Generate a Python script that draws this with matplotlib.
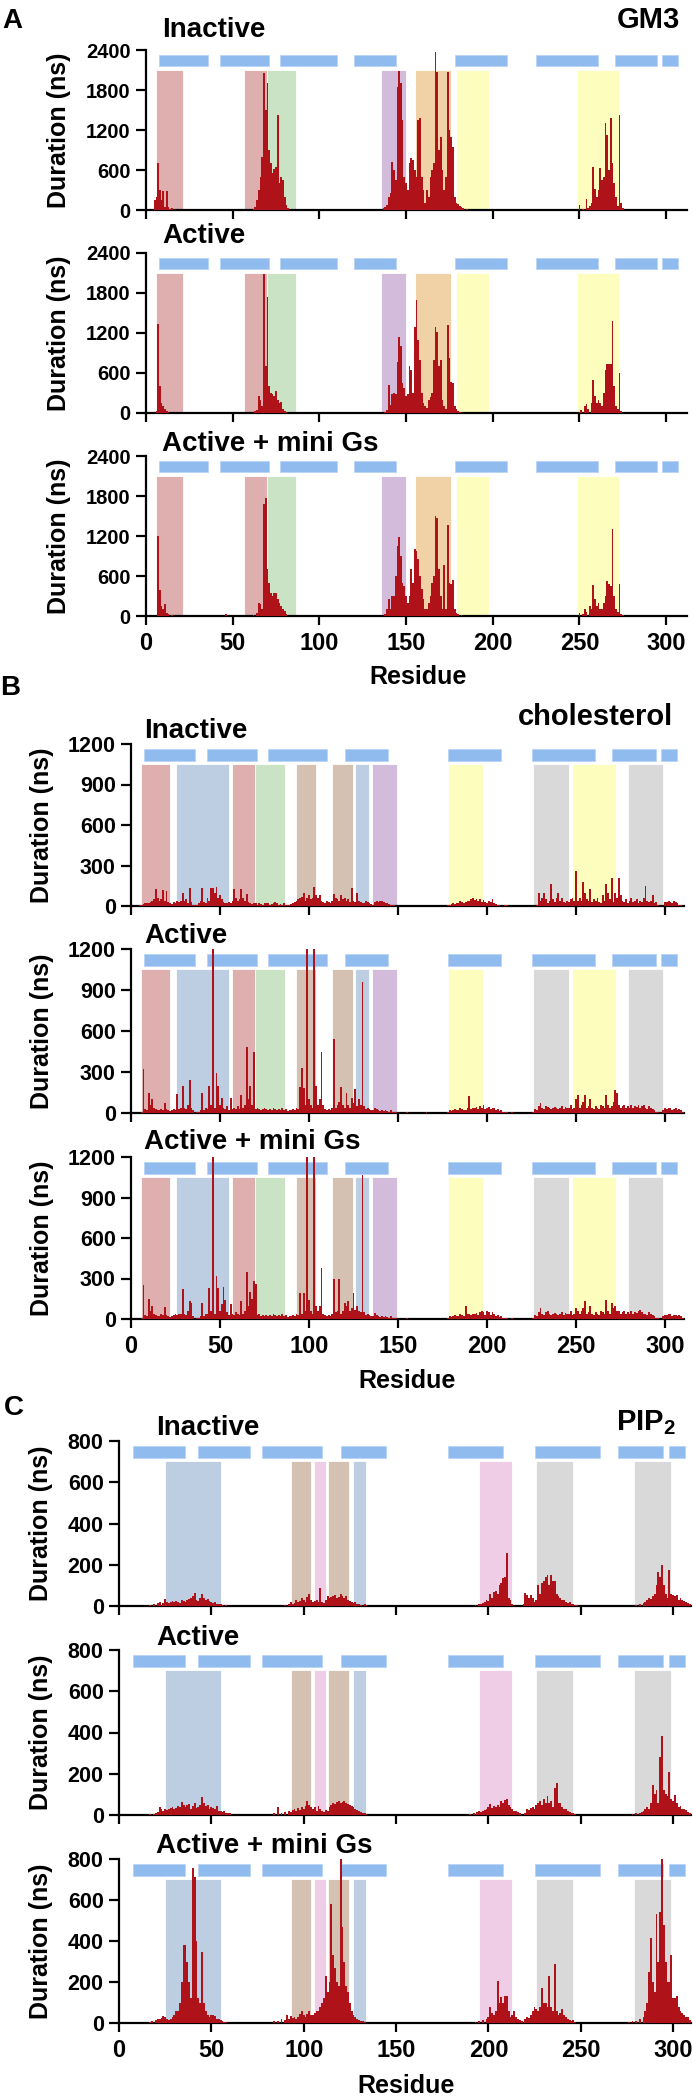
import numpy as np
import matplotlib.pyplot as plt

plt.rcParams['font.family'] = ['Liberation Sans', 'DejaVu Sans']
plt.rcParams['font.weight'] = 'bold'
plt.rcParams['mathtext.fontset'] = 'custom'
plt.rcParams['mathtext.rm'] = 'Liberation Sans:bold'
plt.rcParams['mathtext.bf'] = 'Liberation Sans:bold'

# ---------------- data ----------------
states = ['Inactive', 'Active', 'Active + mini Gs']
lipids = ['GM3', 'cholesterol', 'PIP$_2$']
panel_letters = ['A', 'B', 'C']
xticks = [0, 50, 100, 150, 200, 250, 300]
yticks_gm3 = [0, 600, 1200, 1800, 2400]
yticks_chol = [0, 300, 600, 900, 1200]
yticks_pip2 = [0, 200, 400, 600, 800]

# helix segments (residue start, end)
helices = [(7.5, 36), (42.7, 71), (77.2, 110), (120, 144.3), (178, 208),
           (225, 260.5), (270.2, 294.6), (297.6, 306.6)]

# shaded binding-site regions (start, end, kind)
gm3_regions = [(5.6, 21.6, 'red'), (56.7, 70, 'red'), (70, 86.5, 'green'),
               (135.8, 150, 'purple'), (155, 176, 'orange'),
               (178.5, 197.8, 'yellow'), (248.4, 272.6, 'yellow')]
chol_regions = [(5.7, 21.7, 'red'), (25, 54.9, 'bluegray'), (56.6, 69.9, 'red'),
                (69.9, 86.6, 'green'), (92.8, 103.8, 'brown'), (112.8, 124.5, 'brown'),
                (126, 133.8, 'bluegray'), (135.5, 149.5, 'purple'), (178, 197.7, 'yellow'),
                (225.6, 246, 'gray'), (247.6, 272.3, 'yellow'), (279, 299, 'gray')]
pip2_regions = [(25, 55, 'bluegray'), (93, 104.2, 'brown'), (105.4, 111.9, 'pink'),
                (113.3, 124.8, 'brown'), (126.5, 134, 'bluegray'), (194.9, 212.7, 'pink'),
                (225.9, 245.8, 'gray'), (279, 298.8, 'gray')]

# GM3 durations {residue: ns}
gm3_inactive = {5: 150, 6: 200, 7: 700, 8: 300, 9: 150, 10: 280, 11: 50, 12: 280, 13: 40, 14: 20, 15: 30,
                62: 20, 63: 50, 64: 150, 65: 300, 66: 500, 67: 800, 68: 2060, 69: 1500, 70: 1900, 71: 900,
                72: 700, 73: 550, 74: 620, 75: 650, 76: 1430, 77: 400, 78: 500, 79: 450, 80: 200, 81: 80, 82: 30,
                137: 30, 138: 50, 139: 80, 140: 200, 141: 250, 142: 725, 143: 600, 144: 450, 145: 1850,
                146: 2085, 147: 1900, 148: 1350, 149: 500, 150: 400, 151: 300, 152: 700, 153: 775, 154: 750,
                155: 600, 156: 500, 157: 1350, 158: 1375, 159: 500, 160: 300, 161: 100, 162: 300, 163: 200,
                164: 500, 165: 600, 166: 700, 167: 2375, 168: 2075, 169: 900, 170: 1100, 171: 600, 172: 300,
                173: 500, 174: 2075, 175: 1200, 176: 1100, 177: 950, 178: 200, 179: 100, 180: 90, 181: 60,
                182: 50, 183: 30, 185: 20,
                250: 80, 252: 20, 254: 170, 255: 30, 256: 60, 257: 100, 258: 650, 259: 320, 260: 200,
                261: 300, 262: 625, 263: 450, 264: 500, 265: 1300, 266: 1125, 267: 600, 268: 1375, 269: 700,
                270: 400, 271: 200, 272: 60, 273: 1425, 274: 100, 275: 30}
gm3_active = {6: 30, 7: 1330, 8: 400, 9: 150, 10: 100, 11: 60, 12: 30, 13: 20,
              63: 30, 64: 40, 65: 250, 66: 200, 67: 100, 68: 2090, 69: 700, 70: 1740, 71: 400, 72: 300,
              73: 280, 74: 250, 75: 330, 76: 200, 77: 150, 78: 170, 79: 60, 80: 30, 81: 10,
              138: 20, 139: 40, 140: 425, 141: 120, 142: 280, 143: 300, 144: 280, 145: 770, 146: 1145,
              147: 1000, 148: 450, 149: 380, 150: 250, 151: 280, 152: 700, 153: 650, 154: 300, 155: 1295,
              156: 1700, 157: 1100, 158: 800, 159: 300, 160: 150, 161: 100, 162: 80, 163: 200, 164: 240,
              165: 300, 166: 800, 167: 1295, 168: 1220, 169: 700, 170: 800, 171: 200, 172: 100, 173: 60,
              174: 1320, 175: 820, 176: 470, 177: 450, 178: 100, 179: 60, 180: 30, 181: 20,
              250: 20, 251: 40, 253: 100, 254: 130, 255: 60, 257: 150, 258: 500, 259: 250, 260: 150,
              261: 200, 262: 150, 263: 100, 264: 300, 265: 650, 266: 735, 267: 735, 268: 735, 269: 1385,
              270: 400, 271: 100, 272: 60, 273: 600, 274: 30}
gm3_minigs = {7: 1200, 8: 390, 9: 150, 10: 100, 11: 180, 12: 50, 13: 30, 15: 20, 46: 30,
              62: 20, 64: 40, 65: 190, 66: 180, 67: 100, 68: 1680, 69: 1765, 70: 700, 71: 500, 72: 350,
              73: 300, 74: 340, 75: 350, 76: 250, 77: 200, 78: 150, 79: 100, 80: 80, 81: 30,
              138: 30, 139: 100, 140: 250, 141: 100, 142: 300, 143: 300, 144: 600, 145: 1050, 146: 1180,
              147: 900, 148: 490, 149: 450, 150: 300, 151: 200, 152: 300, 153: 700, 154: 500, 155: 1010,
              156: 980, 157: 850, 158: 600, 159: 400, 160: 250, 161: 100, 162: 100, 163: 200, 164: 300,
              165: 500, 166: 600, 167: 1500, 168: 1465, 169: 700, 170: 300, 171: 100, 172: 765, 173: 100,
              174: 1365, 175: 500, 176: 480, 177: 540, 178: 100, 179: 50, 180: 30, 182: 20,
              250: 50, 252: 30, 253: 100, 254: 60, 256: 150, 257: 100, 258: 465, 259: 250, 260: 150,
              261: 200, 262: 100, 263: 100, 264: 200, 265: 300, 266: 530, 267: 480, 268: 450, 269: 1300,
              270: 300, 271: 100, 272: 60, 273: 485, 274: 30, 275: 20}

# cholesterol durations, residues 1..310 (10 per row)
chol_inactive = [
    0, 0, 0, 0, 5, 10, 15, 20, 25, 20,
    30, 40, 50, 125, 60, 40, 50, 120, 40, 110,
    30, 20, 15, 30, 20, 40, 30, 35, 100, 40,
    50, 20, 130, 30, 10, 5, 10, 20, 40, 130,
    30, 20, 60, 40, 130, 135, 100, 140, 60, 80,
    50, 30, 20, 20, 30, 20, 40, 125, 60, 40,
    50, 125, 60, 40, 90, 30, 20, 15, 20, 20,
    10, 20, 15, 10, 20, 25, 20, 10, 15, 20,
    30, 20, 10, 15, 10, 20, 10, 5, 10, 15,
    20, 30, 40, 50, 60, 70, 100, 40, 60, 80,
    50, 60, 140, 80, 60, 80, 40, 30, 20, 40,
    30, 20, 40, 90, 60, 50, 40, 80, 50, 60,
    40, 50, 30, 130, 40, 30, 100, 40, 30, 20,
    20, 40, 30, 20, 15, 10, 30, 40, 30, 40,
    35, 30, 25, 20, 15, 10, 5, 5, 0, 0,
    0, 0, 0, 0, 0, 0, 0, 0, 0, 0,
    0, 0, 0, 0, 0, 0, 0, 0, 0, 0,
    0, 0, 0, 0, 0, 0, 0, 5, 10, 15,
    20, 15, 25, 20, 40, 30, 20, 30, 40, 35,
    50, 60, 45, 55, 40, 50, 30, 45, 30, 20,
    40, 30, 50, 20, 15, 10, 5, 0, 0, 10,
    5, 0, 0, 0, 0, 0, 0, 0, 0, 0,
    0, 0, 0, 0, 0, 0, 0, 5, 100, 40,
    60, 100, 50, 20, 40, 165, 50, 30, 60, 100,
    40, 60, 30, 20, 40, 30, 50, 60, 40, 260,
    40, 60, 40, 175, 100, 50, 40, 125, 30, 50,
    40, 60, 30, 20, 80, 40, 165, 100, 50, 210,
    30, 100, 60, 210, 80, 40, 30, 50, 20, 40,
    60, 30, 40, 50, 20, 40, 30, 60, 150, 40,
    30, 40, 85, 20, 30, 10, 0, 0, 0, 30,
    30, 35, 30, 20, 40, 30, 20, 10, 5, 0]
chol_active = [
    0, 0, 0, 0, 0, 5, 320, 30, 20, 150,
    60, 100, 40, 30, 20, 20, 30, 20, 70, 30,
    20, 15, 20, 30, 20, 140, 30, 40, 200, 40,
    30, 60, 240, 40, 20, 0, 5, 10, 20, 150,
    20, 40, 30, 200, 60, 1200, 40, 290, 200, 60,
    110, 40, 30, 50, 20, 110, 30, 40, 30, 50,
    30, 130, 40, 60, 480, 100, 200, 60, 450, 30,
    40, 30, 20, 30, 40, 30, 20, 30, 20, 40,
    30, 20, 30, 25, 40, 20, 30, 15, 20, 25,
    30, 20, 40, 30, 190, 330, 180, 60, 1200, 100,
    60, 40, 1200, 200, 60, 100, 450, 60, 30, 20,
    30, 20, 40, 540, 40, 60, 80, 190, 60, 40,
    150, 60, 40, 110, 70, 175, 50, 100, 60, 960,
    50, 30, 40, 30, 20, 25, 40, 30, 20, 15,
    20, 15, 20, 15, 10, 20, 10, 5, 5, 0,
    0, 0, 0, 0, 10, 0, 0, 0, 0, 0,
    0, 0, 0, 0, 0, 10, 0, 0, 0, 0,
    0, 0, 0, 0, 0, 0, 0, 10, 20, 15,
    20, 30, 25, 20, 40, 30, 20, 25, 40, 125,
    30, 40, 35, 45, 30, 50, 40, 55, 30, 40,
    45, 30, 40, 35, 20, 30, 15, 20, 10, 10,
    10, 0, 0, 5, 0, 0, 0, 0, 0, 0,
    0, 0, 0, 0, 0, 10, 30, 20, 50, 75,
    40, 30, 50, 45, 40, 30, 40, 45, 35, 30,
    40, 50, 30, 45, 40, 35, 60, 30, 40, 100,
    130, 40, 60, 80, 130, 40, 50, 100, 40, 30,
    50, 40, 30, 60, 50, 40, 130, 60, 40, 50,
    80, 165, 150, 60, 40, 50, 60, 40, 50, 40,
    60, 40, 50, 45, 60, 40, 50, 60, 40, 30,
    50, 40, 30, 20, 10, 5, 0, 0, 20, 40,
    30, 40, 35, 20, 30, 40, 20, 30, 20, 10]
chol_minigs = [
    0, 0, 0, 0, 0, 5, 255, 30, 20, 145,
    60, 100, 40, 30, 20, 25, 40, 30, 90, 30,
    20, 15, 20, 30, 40, 30, 35, 40, 220, 40,
    30, 60, 135, 120, 20, 0, 5, 10, 20, 120,
    20, 40, 40, 230, 60, 1200, 40, 320, 230, 60,
    110, 240, 140, 50, 30, 110, 40, 30, 50, 40,
    30, 135, 40, 60, 350, 100, 200, 150, 280, 260,
    30, 40, 20, 30, 20, 30, 25, 30, 20, 40,
    30, 20, 30, 25, 35, 20, 30, 15, 20, 25,
    30, 20, 40, 30, 190, 40, 190, 60, 1200, 140,
    60, 40, 1200, 100, 60, 100, 380, 40, 30, 20,
    30, 20, 40, 300, 50, 60, 300, 40, 60, 120,
    100, 130, 60, 80, 195, 70, 100, 60, 50, 1065,
    50, 30, 40, 30, 20, 25, 45, 30, 20, 15,
    20, 15, 20, 15, 10, 20, 10, 5, 5, 0,
    0, 0, 0, 0, 10, 0, 0, 0, 0, 0,
    0, 0, 0, 0, 0, 0, 0, 0, 0, 0,
    0, 0, 0, 0, 0, 0, 0, 10, 20, 15,
    20, 30, 25, 20, 40, 30, 20, 100, 40, 35,
    30, 40, 35, 45, 30, 50, 60, 55, 30, 60,
    55, 30, 50, 35, 20, 30, 15, 20, 10, 10,
    10, 0, 0, 5, 0, 0, 0, 0, 0, 0,
    0, 0, 0, 0, 0, 10, 30, 20, 50, 80,
    40, 30, 50, 60, 40, 30, 40, 45, 35, 30,
    40, 50, 30, 45, 40, 35, 60, 30, 40, 80,
    60, 40, 60, 80, 130, 40, 50, 100, 40, 30,
    50, 40, 30, 60, 50, 40, 140, 60, 40, 120,
    80, 100, 60, 60, 40, 50, 60, 40, 50, 40,
    60, 40, 50, 45, 60, 70, 50, 40, 40, 30,
    50, 40, 30, 20, 10, 5, 0, 0, 20, 30,
    30, 40, 35, 20, 30, 30, 20, 30, 20, 10]

# PIP2 durations {residue: ns}
pip2_inactive = {17: 5, 19: 10, 21: 15, 22: 20, 24: 15, 25: 32, 26: 20, 27: 15, 28: 20, 29: 25, 30: 20,
                 31: 25, 32: 20, 33: 15, 34: 30, 35: 25, 36: 20, 37: 30, 38: 35, 39: 40, 40: 50, 41: 65,
                 42: 30, 43: 25, 44: 40, 45: 58, 46: 40, 47: 30, 48: 35, 49: 25, 50: 20, 51: 15, 52: 20,
                 53: 10, 54: 10, 55: 10, 56: 5, 58: 5,
                 90: 5, 92: 10, 93: 20, 94: 10, 95: 15, 96: 30, 97: 20, 98: 25, 99: 40, 100: 30, 101: 20,
                 102: 45, 103: 60, 104: 30, 105: 20, 106: 25, 107: 30, 108: 20, 109: 85, 110: 20, 111: 15,
                 112: 30, 113: 50, 114: 40, 115: 45, 116: 50, 117: 55, 118: 40, 119: 45, 120: 60, 121: 50,
                 122: 40, 123: 50, 124: 30, 125: 25, 126: 20, 127: 15, 128: 20, 129: 10, 130: 10, 131: 5,
                 133: 10, 134: 5,
                 193: 5, 195: 10, 196: 10, 197: 15, 198: 20, 199: 30, 200: 25, 201: 60, 202: 40, 203: 70,
                 204: 75, 205: 60, 206: 100, 207: 110, 208: 135, 209: 140, 210: 255, 211: 40, 212: 30,
                 213: 10,
                 219: 10, 220: 65, 221: 55, 222: 40, 223: 55, 224: 40, 225: 20, 226: 30, 227: 100, 228: 60,
                 229: 110, 230: 120, 231: 140, 232: 150, 233: 100, 234: 150, 235: 120, 236: 120, 237: 60,
                 238: 50, 239: 40, 240: 30, 241: 30, 242: 20, 243: 15, 244: 20, 245: 10, 246: 10, 247: 5,
                 248: 5,
                 280: 5, 282: 10, 284: 15, 285: 20, 286: 30, 287: 40, 288: 35, 289: 50, 290: 60, 291: 100,
                 292: 165, 293: 140, 294: 200, 295: 100, 296: 60, 297: 40, 298: 175, 299: 60, 300: 55,
                 301: 50, 302: 55, 303: 30, 304: 40, 305: 30, 306: 25, 307: 20, 308: 15, 309: 10}
pip2_active = {17: 5, 19: 5, 20: 10, 21: 15, 22: 40, 23: 30, 24: 20, 25: 30, 26: 25, 27: 30, 28: 35,
               29: 40, 30: 30, 31: 35, 32: 45, 33: 40, 34: 65, 35: 50, 36: 40, 37: 50, 38: 55, 39: 30,
               40: 45, 41: 60, 42: 35, 43: 40, 44: 50, 45: 85, 46: 60, 47: 45, 48: 50, 49: 30, 50: 40,
               51: 35, 52: 30, 53: 45, 54: 20, 55: 20, 56: 15, 57: 20, 58: 10, 59: 10, 60: 10,
               84: 10, 86: 40, 88: 10, 90: 15, 92: 20, 93: 15, 94: 25, 95: 30, 96: 20, 97: 35, 98: 25,
               99: 40, 100: 30, 101: 45, 102: 70, 103: 50, 104: 40, 105: 30, 106: 40, 107: 20, 108: 45,
               109: 30, 110: 20, 111: 15, 112: 25, 113: 20, 114: 40, 115: 50, 116: 60, 117: 55, 118: 65,
               119: 70, 120: 60, 121: 65, 122: 70, 123: 60, 124: 55, 125: 50, 126: 45, 127: 40, 128: 30,
               129: 25, 130: 20, 131: 15, 132: 10, 133: 10, 134: 5,
               190: 5, 192: 10, 194: 15, 195: 20, 196: 15, 197: 20, 198: 25, 199: 30, 200: 40, 201: 55,
               202: 35, 203: 45, 204: 40, 205: 50, 206: 40, 207: 70, 208: 60, 209: 75, 210: 80, 211: 50,
               212: 40, 213: 30, 214: 20, 215: 20, 216: 15, 217: 10,
               220: 10, 221: 30, 222: 25, 223: 35, 224: 40, 225: 30, 226: 50, 227: 60, 228: 70, 229: 50,
               230: 80, 231: 60, 232: 90, 233: 60, 234: 70, 235: 40, 236: 130, 237: 155, 238: 60, 239: 60,
               240: 40, 241: 30, 242: 30, 243: 20, 244: 15, 245: 10, 246: 10, 247: 5,
               278: 5, 280: 10, 282: 10, 283: 15, 284: 20, 285: 30, 286: 40, 287: 30, 288: 60, 289: 145,
               290: 100, 291: 120, 292: 60, 293: 280, 294: 385, 295: 120, 296: 100, 297: 90, 298: 210,
               299: 80, 300: 70, 301: 95, 302: 60, 303: 40, 304: 45, 305: 30, 306: 30, 307: 25, 308: 15,
               309: 10}
pip2_minigs = {17: 5, 18: 10, 20: 15, 21: 20, 22: 20, 23: 25, 24: 35, 25: 30, 26: 20, 27: 15, 28: 20,
               29: 30, 30: 40, 31: 60, 32: 60, 33: 100, 34: 200, 35: 380, 36: 380, 37: 300, 38: 200,
               39: 120, 40: 755, 41: 710, 42: 400, 43: 120, 44: 100, 45: 345, 46: 100, 47: 60, 48: 40,
               49: 30, 50: 40, 51: 40, 52: 35, 53: 20, 54: 20, 55: 15, 56: 10, 57: 5, 58: 5,
               84: 10, 86: 10, 88: 20, 90: 15, 91: 40, 92: 20, 93: 35, 94: 25, 95: 30, 96: 20, 97: 30,
               98: 45, 99: 60, 100: 40, 101: 30, 102: 45, 103: 60, 104: 40, 105: 40, 106: 50, 107: 60,
               108: 60, 109: 80, 110: 100, 111: 120, 112: 230, 113: 150, 114: 200, 115: 580, 116: 330,
               117: 270, 118: 200, 119: 180, 120: 800, 121: 470, 122: 300, 123: 180, 124: 150, 125: 100,
               126: 60, 127: 40, 128: 30, 129: 20, 130: 15, 131: 10, 132: 10, 133: 5,
               193: 5, 195: 10, 197: 15, 199: 20, 200: 30, 201: 80, 202: 50, 203: 40, 204: 60, 205: 205,
               206: 100, 207: 125, 208: 100, 209: 130, 210: 130, 211: 60, 212: 30, 213: 40, 214: 60,
               215: 30, 216: 20, 217: 15, 218: 10,
               220: 20, 221: 30, 222: 25, 223: 40, 224: 60, 225: 80, 226: 70, 227: 60, 228: 80, 229: 170,
               230: 100, 231: 100, 232: 80, 233: 230, 234: 80, 235: 60, 236: 290, 237: 60, 238: 40,
               239: 50, 240: 70, 241: 40, 242: 30, 243: 20, 244: 15, 245: 10, 246: 15, 247: 5,
               276: 5, 278: 10, 280: 10, 282: 20, 284: 30, 285: 60, 286: 100, 287: 250, 288: 415, 289: 200,
               290: 150, 291: 530, 292: 300, 293: 540, 294: 800, 295: 480, 296: 300, 297: 200, 298: 200,
               299: 330, 300: 120, 301: 120, 302: 130, 303: 80, 304: 60, 305: 50, 306: 40, 307: 30,
               308: 30, 309: 15}

# ---------------- styling ----------------
region_colors = {'red': '#dfaeae', 'green': '#cae3c4', 'purple': '#d3bcdb', 'orange': '#f1d1a6',
                 'yellow': '#fdfdbd', 'bluegray': '#bdcde2', 'brown': '#d5c1b1', 'gray': '#d9d9d9',
                 'pink': '#efcde6'}
bar_color = '#b0121a'
helix_color = '#8fbbef'

W, H = 693, 2098
fig = plt.figure(figsize=(W / 100, H / 100), dpi=100)


def fx(px):
    return px / W


def fy(px):
    return 1 - px / H


def to_xy(d):
    if isinstance(d, dict):
        return list(d.keys()), list(d.values())
    return list(range(1, len(d) + 1)), d


def make_panel(x0, x1, ytop, ybot, xmax, ymax, yticks, regions, data, last, ytick_size):
    ax = fig.add_axes([fx(x0), fy(ybot), fx(x1 - x0), (ybot - ytop) / H])
    for s, e, kind in regions:
        ax.bar(s, ymax * 0.877, width=e - s, align='edge', color=region_colors[kind],
               edgecolor='white', linewidth=0.6, zorder=1)
    for s, e in helices:
        ax.bar(s, ymax * 0.073, width=e - s, bottom=ymax * 0.897, align='edge',
               color=helix_color, edgecolor='#b8d4f5', linewidth=0.6, zorder=2)
    res, dur = to_xy(data)
    ax.bar(res, dur, width=1.0, color=bar_color, linewidth=0, zorder=3)
    ax.set_xlim(0, xmax)
    ax.set_ylim(0, ymax)
    ax.spines['top'].set_visible(False)
    ax.spines['right'].set_visible(False)
    for sp in ('left', 'bottom'):
        ax.spines[sp].set_linewidth(1.6)
    ax.set_xticks(xticks)
    ax.set_yticks(yticks)
    ax.tick_params(axis='y', length=7, width=1.6, pad=4, labelsize=ytick_size)
    ax.tick_params(axis='x', length=6.5, width=1.6, pad=5, labelsize=17)
    for lab in ax.get_yticklabels() + ax.get_xticklabels():
        lab.set_fontweight('bold')
    if not last:
        ax.set_xticklabels([])
    return ax


groups = [
    dict(x0=146, x1=687, xmax=312, ymax=2400, yticks=yticks_gm3, regions=gm3_regions,
         data=[gm3_inactive, gm3_active, gm3_minigs], rows=[(50, 210), (253, 413), (456, 616)],
         ylab_x=59, title_x=162, title_base=[37, 243, 451], letter=(2, 28), lipid=(680, 28),
         resid=(418, 684), ytick_size=14.5),
    dict(x0=131, x1=684, xmax=310.6, ymax=1200, yticks=yticks_chol, regions=chol_regions,
         data=[chol_inactive, chol_active, chol_minigs], rows=[(744, 906), (949, 1113), (1157, 1319)],
         ylab_x=42, title_x=144, title_base=[738, 943, 1149], letter=(0, 695), lipid=(673, 725),
         resid=(407, 1388), ytick_size=15.5),
    dict(x0=119, x1=691, xmax=309.7, ymax=800, yticks=yticks_pip2, regions=pip2_regions,
         data=[pip2_inactive, pip2_active, pip2_minigs], rows=[(1441, 1606), (1650, 1815), (1859, 2023)],
         ylab_x=41, title_x=156, title_base=[1435, 1645, 1853], letter=(4, 1415), lipid=(676, 1430),
         resid=(406, 2093), ytick_size=15.5),
]

for gi, g in enumerate(groups):
    for k in range(3):
        ytop, ybot = g['rows'][k]
        make_panel(g['x0'], g['x1'], ytop, ybot, g['xmax'], g['ymax'], g['yticks'],
                   g['regions'], g['data'][k], k == 2, g['ytick_size'])
        fig.text(fx(g['title_x']), fy(g['title_base'][k]), states[k], fontsize=20,
                 fontweight='bold', ha='left', va='baseline')
        fig.text(fx(g['ylab_x']), fy((ytop + ybot) / 2), 'Duration (ns)', rotation=90,
                 fontsize=18, fontweight='bold', ha='center', va='center')
    fig.text(fx(g['letter'][0]), fy(g['letter'][1]), panel_letters[gi], fontsize=20,
             fontweight='bold', ha='left', va='baseline')
    fig.text(fx(g['lipid'][0]), fy(g['lipid'][1]), lipids[gi], fontsize=21,
             fontweight='bold', ha='right', va='baseline')
    fig.text(fx(g['resid'][0]), fy(g['resid'][1]), 'Residue', fontsize=18,
             fontweight='bold', ha='center', va='baseline')

fig.savefig('out.png', dpi=100)
